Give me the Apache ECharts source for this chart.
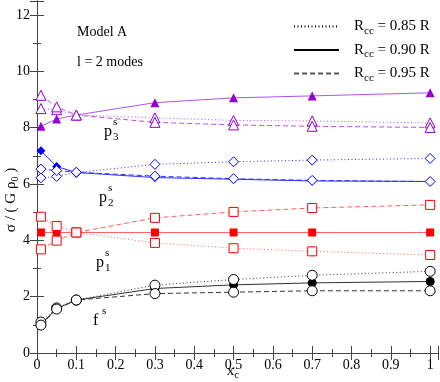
<!DOCTYPE html>
<html>
<head>
<meta charset="utf-8">
<script src="https://cdn.jsdelivr.net/npm/echarts@6/dist/echarts.min.js"></script>
<style>
  html, body { margin: 0; padding: 0; background: #fff; }
  #chart { width: 440px; height: 382px; }
</style>
</head>
<body>
<div id="chart"></div>
<script>
// x_c values
var xc = [0.01, 0.05, 0.1, 0.3, 0.5, 0.7, 1.0];

// f mode
var f85 = [1.10, 1.60, 1.88, 2.41, 2.61, 2.76, 2.90];
var f90 = [1.02, 1.58, 1.88, 2.29, 2.42, 2.49, 2.54];
var f95 = [0.99, 1.56, 1.88, 2.11, 2.16, 2.21, 2.21];
// p1 mode
var p1_85 = [4.84, 4.51, 4.28, 3.91, 3.72, 3.61, 3.48];
var p1_90 = [4.28, 4.28, 4.28, 4.28, 4.28, 4.28, 4.28];
var p1_95 = [3.68, 3.99, 4.28, 4.80, 5.01, 5.15, 5.26];
// p2 mode
var p2_85 = [6.22, 6.27, 6.41, 6.70, 6.79, 6.85, 6.91];
var p2_90 = [7.18, 6.62, 6.41, 6.23, 6.17, 6.11, 6.09];
var p2_95 = [6.53, 6.48, 6.42, 6.28, 6.19, 6.13, 6.09];
// p3 mode
var p3_85 = [8.68, 8.64, 8.45, 8.35, 8.26, 8.24, 8.17];
var p3_90 = [8.05, 8.31, 8.45, 8.89, 9.06, 9.13, 9.24];
var p3_95 = [9.15, 8.74, 8.45, 8.19, 8.10, 8.05, 8.01];

var xTicks = [0, 0.1, 0.2, 0.3, 0.4, 0.5, 0.6, 0.7, 0.8, 0.9, 1];
var yTicks = [0, 2, 4, 6, 8, 10, 12];

var legendNames = ['0.85', '0.90', '0.95'];

var serif = 'Liberation Serif';

function pairs(ys) {
  var out = [];
  for (var i = 0; i < xc.length; i++) out.push([xc[i], ys[i]]);
  return out;
}

function dashOf(kind) {
  return kind == '0.85' ? [1, 2.5] : (kind == '0.95' ? [5, 3] : 'solid');
}

// dotted = 0.85 (open), solid = 0.90 (filled), dashed = 0.95 (open)
function makeSeries(ys, kind, color, lineColor, symbol, size) {
  var filled = kind == '0.90';
  return {
    type: 'line',
    data: pairs(ys),
    symbol: symbol,
    symbolSize: filled ? size - 1 : size,
    showAllSymbol: true,
    animation: false,
    silent: true,
    z: filled ? 2 : 3,
    lineStyle: { color: lineColor, width: 1, type: dashOf(kind) },
    itemStyle: {
      color: filled ? color : '#fff',
      borderColor: color,
      borderWidth: filled ? 0 : 1
    }
  };
}

var purple = '#9400d3', blue = '#0000ff', red = '#ff0000', black = '#000000';

var series = [];
var groups = [
  [f85, f90, f95, black, '#333', 'circle', 10],
  [p1_85, p1_90, p1_95, red, '#ff6060', 'rect', 9],
  [p2_85, p2_90, p2_95, blue, '#3030ff', 'diamond', 10],
  [p3_85, p3_90, p3_95, purple, '#b452e0', 'triangle', 10]
];
groups.forEach(function (g) {
  series.push(makeSeries(g[0], '0.85', g[3], g[4], g[5], g[6]));
  series.push(makeSeries(g[1], '0.90', g[3], g[4], g[5], g[6]));
  series.push(makeSeries(g[2], '0.95', g[3], g[4], g[5], g[6]));
});

// legend-only series (line samples only)
legendNames.forEach(function (n) {
  series.push({
    name: n,
    type: 'line',
    data: [],
    symbol: 'none',
    itemStyle: { color: '#000' },
    lineStyle: { color: n == '0.95' ? '#555' : '#000', width: 1, type: dashOf(n) }
  });
});

// p^s_n labels
function modeLabel(main, sub, x, y) {
  var items = [
    { type: 'text', left: x, top: y, style: { text: main, font: '16px ' + serif, fill: '#000' } },
    { type: 'text', left: x + 9, top: y - 7, style: { text: 's', font: '11px ' + serif, fill: '#000' } }
  ];
  if (sub) {
    items.push({ type: 'text', left: x + 9, top: y + 8, style: { text: sub, font: '11px ' + serif, fill: '#000' } });
  }
  return items;
}

var graphics = [
  { type: 'text', left: 77, top: 25, style: { text: 'Model A', font: '14px ' + serif, fill: '#000' } },
  { type: 'text', left: 77, top: 55, style: { text: 'l = 2 modes', font: '14px ' + serif, fill: '#000' } },
  // y axis title
  {
    type: 'text', x: 11, y: 200, rotation: Math.PI / 2,
    style: {
      text: '{a|σ / ( G ρ}{b|0}{a| )}', align: 'center', verticalAlign: 'middle',
      rich: {
        a: { fontFamily: serif, fontSize: 15, fill: '#000' },
        b: { fontFamily: serif, fontSize: 10, fill: '#000', padding: [9, 0, 0, 0] }
      }
    }
  },
  // x axis title
  {
    type: 'text', x: 233, y: 371,
    style: {
      text: '{a|x}{b|c}', align: 'center', verticalAlign: 'middle',
      rich: {
        a: { fontFamily: serif, fontSize: 15, fill: '#000' },
        b: { fontFamily: serif, fontSize: 11, fill: '#000', padding: [9, 0, 0, 0] }
      }
    }
  }
]
  .concat(modeLabel('p', '3', 104, 124))
  .concat(modeLabel('p', '2', 99, 190))
  .concat(modeLabel('p', '1', 96, 255))
  .concat(modeLabel('f', null, 93, 313));

var option = {
  backgroundColor: '#fff',
  animation: false,
  grid: { left: 37, right: 2, top: 1, bottom: 29, outerBoundsMode: 'none' },
  legend: {
    data: legendNames,
    orient: 'vertical',
    left: 288,
    top: 14,
    itemWidth: 45,
    itemHeight: 14,
    itemGap: 6,
    selectedMode: false,
    itemStyle: { opacity: 0 },
    formatter: function (name) {
      return '{g|}{r|R}{s|cc}{r| = ' + name + ' R}';
    },
    textStyle: {
      rich: {
        g: { width: 10 },
        r: { fontFamily: serif, fontSize: 15, color: '#000' },
        s: { fontFamily: serif, fontSize: 11, color: '#000', padding: [9, 0, 0, 0] }
      }
    }
  },
  xAxis: [{
    type: 'value',
    min: 0,
    max: 1.02,
    interval: 0.1,
    position: 'bottom',
    splitLine: { show: false },
    axisLine: { lineStyle: { color: '#444', width: 1 } },
    axisTick: { inside: true, length: 7, lineStyle: { color: '#444' } },
    minorTick: { show: true, splitNumber: 2, length: 4, lineStyle: { color: '#444' } },
    axisLabel: {
      fontFamily: serif, fontSize: 14, color: '#000', margin: 5,
      formatter: function (v) { return xTicks.indexOf(Math.round(v * 10) / 10) >= 0 && v <= 1.0001 ? String(Math.round(v * 10) / 10) : ''; }
    }
  }, {
    type: 'value',
    min: 0,
    max: 1.02,
    interval: 0.1,
    position: 'top',
    splitLine: { show: false },
    axisLine: { lineStyle: { color: '#444', width: 1 } },
    axisTick: { inside: true, length: 7, lineStyle: { color: '#444' } },
    minorTick: { show: true, splitNumber: 2, length: 4, lineStyle: { color: '#444' } },
    axisLabel: { show: false }
  }],
  yAxis: [{
    type: 'value',
    min: 0,
    max: 12.5,
    interval: 2,
    position: 'left',
    splitLine: { show: false },
    axisLine: { show: true, lineStyle: { color: '#444', width: 1 } },
    axisTick: { inside: true, length: 7, lineStyle: { color: '#444' } },
    minorTick: { show: true, splitNumber: 2, length: 4, lineStyle: { color: '#444' } },
    axisLabel: {
      fontFamily: serif, fontSize: 14, color: '#000', margin: 7,
      formatter: function (v) { return yTicks.indexOf(v) >= 0 ? String(v) : ''; }
    }
  }, {
    type: 'value',
    min: 0,
    max: 12.5,
    interval: 2,
    position: 'right',
    splitLine: { show: false },
    axisLine: { show: true, lineStyle: { color: '#444', width: 1 } },
    axisTick: { inside: true, length: 7, lineStyle: { color: '#444' } },
    minorTick: { show: true, splitNumber: 2, length: 4, lineStyle: { color: '#444' } },
    axisLabel: { show: false }
  }],
  graphic: graphics,
  series: series
};

var chart = echarts.init(document.getElementById('chart'));
chart.setOption(option);
</script>
</body>
</html>
